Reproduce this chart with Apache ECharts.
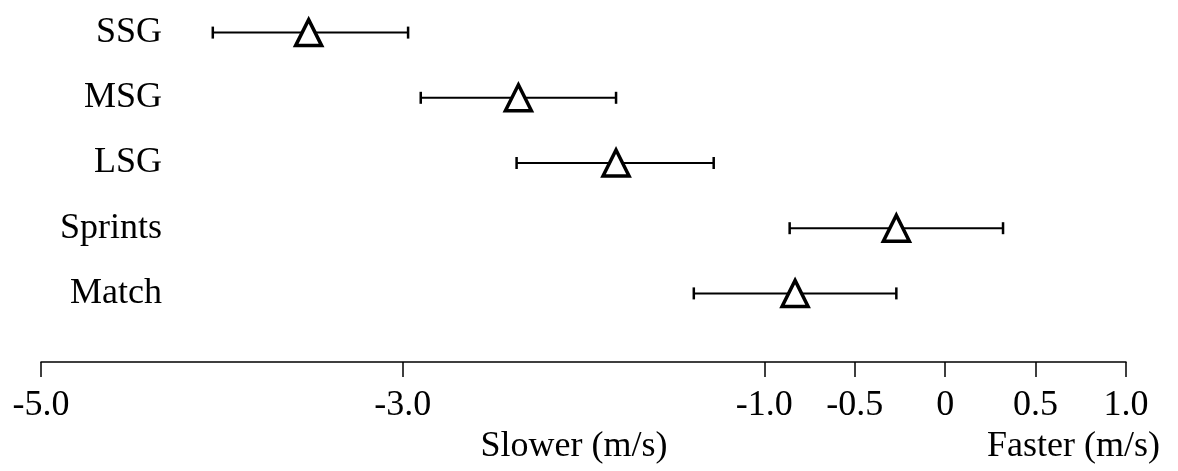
<!DOCTYPE html>
<html>
<head>
<meta charset="utf-8">
<script src="https://cdn.jsdelivr.net/npm/echarts@6/dist/echarts.min.js"></script>
<style>
  html, body { margin: 0; padding: 0; background: #fff; }
  #chart { width: 1178px; height: 471px; }
</style>
</head>
<body>
<div id="chart"></div>
<script>
// categories, top to bottom
const groups = ['SSG', 'MSG', 'LSG', 'Sprints', 'Match'];
// mean difference (m/s) and its interval
const means = [-3.52, -2.36, -1.82, -0.27, -0.83];
const lower = [-4.05, -2.90, -2.37, -0.86, -1.39];
const upper = [-2.97, -1.82, -1.28, 0.32, -0.27];
// x axis tick values
const ticks = [-5, -3, -1, -0.5, 0, 0.5, 1];

const font = 'Liberation Serif';
const chart = echarts.init(document.getElementById('chart'));

const option = {
  animation: false,
  backgroundColor: '#fff',
  grid: { left: 41, right: 52, top: -3, bottom: 145 },
  xAxis: {
    type: 'value',
    min: -5,
    max: 1,
    offset: 36, // axis sits below the rows
    splitLine: { show: false },
    axisLine: { show: true, lineStyle: { color: '#000', width: 1.5 } },
    axisTick: { show: true, length: 15, customValues: ticks, lineStyle: { color: '#000', width: 1.5 } },
    axisLabel: {
      customValues: ticks,
      margin: 26,
      color: '#000',
      fontFamily: font,
      fontSize: 36,
      formatter: v => (v === 0 ? '0' : v.toFixed(1))
    }
  },
  yAxis: {
    type: 'category',
    data: groups,
    inverse: true,
    offset: -123, // labels end around x=162
    axisLine: { show: false },
    axisTick: { show: false },
    splitLine: { show: false },
    axisLabel: { margin: 2, color: '#000', fontFamily: font, fontSize: 36 }
  },
  graphic: [
    {
      type: 'text', x: 574, y: 447,
      style: { text: 'Slower (m/s)', fill: '#000', font: '36px "Liberation Serif"', textAlign: 'center', textVerticalAlign: 'middle' }
    },
    {
      type: 'text', x: 1160, y: 447,
      style: { text: 'Faster (m/s)', fill: '#000', font: '36px "Liberation Serif"', textAlign: 'right', textVerticalAlign: 'middle' }
    }
  ],
  series: [
    {
      // error bars
      type: 'custom',
      data: groups.map((g, i) => [lower[i], upper[i], i]),
      encode: { x: [0, 1], y: 2 },
      renderItem: (params, api) => {
        const idx = api.value(2);
        const lo = api.coord([api.value(0), idx]);
        const hi = api.coord([api.value(1), idx]);
        const h = 6;
        const cap = { stroke: '#000', lineWidth: 2.5 };
        return {
          type: 'group',
          children: [
            { type: 'line', shape: { x1: lo[0], y1: lo[1], x2: hi[0], y2: hi[1] }, style: { stroke: '#000', lineWidth: 2 } },
            { type: 'line', shape: { x1: lo[0], y1: lo[1] - h, x2: lo[0], y2: lo[1] + h }, style: cap },
            { type: 'line', shape: { x1: hi[0], y1: hi[1] - h, x2: hi[0], y2: hi[1] + h }, style: cap }
          ]
        };
      },
      z: 2
    },
    {
      // mean markers
      type: 'scatter',
      data: groups.map((g, i) => [means[i], i]),
      symbol: 'triangle',
      symbolSize: [26, 26],
      itemStyle: { color: '#fff', borderColor: '#000', borderWidth: 3.5, opacity: 1 },
      z: 3
    }
  ]
};

chart.setOption(option);
</script>
</body>
</html>
